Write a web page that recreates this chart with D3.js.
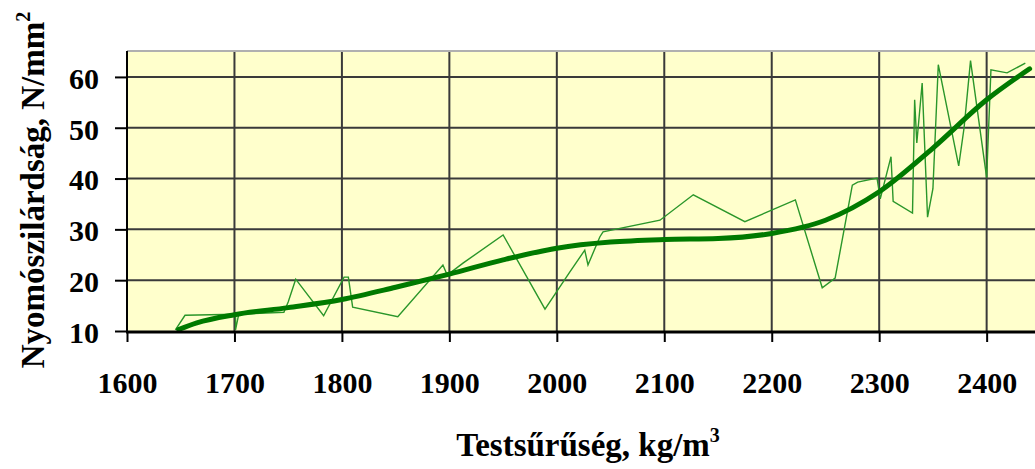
<!DOCTYPE html>
<html>
<head>
<meta charset="utf-8">
<script src="https://cdn.jsdelivr.net/npm/d3@7"></script>
<style>
  body { margin: 0; background: #fff; }
  svg { display: block; font-family: "Liberation Serif", "Times New Roman", serif; font-weight: bold; }
</style>
</head>
<body>
<svg id="chart" width="1035" height="469"></svg>
<script>
// measured points (density kg/m3, strength N/mm2)
const measDensity = [1645, 1654, 1701, 1701, 1704, 1746, 1750, 1757, 1783, 1802, 1806, 1810, 1852, 1894, 1898, 1913,
  1950, 1989, 2012, 2026, 2029, 2040, 2043, 2096, 2127, 2175, 2222, 2247, 2259, 2275, 2280, 2298, 2301, 2311, 2313,
  2331, 2333, 2335, 2340, 2345, 2350, 2355, 2374, 2379, 2385, 2400, 2404, 2419, 2436];
const measStrength = [10.2, 13.1, 13.3, 10.2, 13.3, 13.7, 15.7, 20.2, 13.0, 20.6, 20.6, 14.7, 12.8, 23.0, 21.0, 23.4,
  28.9, 14.3, 21.6, 25.9, 23.0, 28.5, 29.5, 31.8, 36.8, 31.5, 35.8, 18.5, 20.4, 38.7, 39.3, 40.1, 36.0, 44.3, 35.5,
  33.2, 55.5, 47.0, 58.8, 32.4, 38.0, 62.4, 42.5, 50.0, 63.2, 40.2, 61.4, 60.8, 62.7];

// trend line
const trendDensity = [1648, 1665, 1700, 1750, 1800, 1850, 1900, 1950, 2000, 2050, 2100, 2150, 2200, 2250, 2300, 2350, 2400, 2440];
const trendStrength = [10.3, 11.6, 13.2, 14.6, 16.2, 18.6, 21.2, 24.0, 26.3, 27.5, 28.0, 28.2, 29.2, 31.8, 37.4, 46.0, 55.5, 61.6];

const xTicks = [1600, 1700, 1800, 1900, 2000, 2100, 2200, 2300, 2400];
const yTicks = [10, 20, 30, 40, 50, 60];

const svg = d3.select('#chart');
const pLeft = 127, pRight = 1035, pTop = 51, pBottom = 331;

const x = d3.scaleLinear().domain([1600, 2445]).range([pLeft, pRight]);
const y = d3.scaleLinear().domain([10, 65.1]).range([pBottom, pTop]);

// plot background
svg.append('rect')
  .attr('x', pLeft).attr('y', pTop)
  .attr('width', pRight - pLeft).attr('height', pBottom - pTop)
  .attr('fill', '#ffffcc');

// grid
svg.append('g').selectAll('line')
  .data(yTicks.filter(d => d > 10))
  .enter().append('line')
  .attr('x1', pLeft).attr('x2', pRight)
  .attr('y1', d => y(d)).attr('y2', d => y(d))
  .attr('stroke', '#3a3a3a').attr('stroke-width', 2);
svg.append('g').selectAll('line')
  .data(xTicks.filter(d => d > 1600))
  .enter().append('line')
  .attr('x1', d => x(d)).attr('x2', d => x(d))
  .attr('y1', pTop).attr('y2', pBottom)
  .attr('stroke', '#3a3a3a').attr('stroke-width', 2);

svg.append('line')
  .attr('x1', pLeft).attr('x2', pRight).attr('y1', pTop).attr('y2', pTop)
  .attr('stroke', '#b0b0b0').attr('stroke-width', 2);

// lines
const meas = measDensity.map((d, i) => [d, measStrength[i]]);
const trend = trendDensity.map((d, i) => [d, trendStrength[i]]);

svg.append('path')
  .datum(meas)
  .attr('d', d3.line().x(d => x(d[0])).y(d => y(d[1])))
  .attr('fill', 'none').attr('stroke', '#2a962a').attr('stroke-width', 1.4)
  .attr('stroke-linejoin', 'miter');

svg.append('path')
  .datum(trend)
  .attr('d', d3.line().curve(d3.curveMonotoneX).x(d => x(d[0])).y(d => y(d[1])))
  .attr('fill', 'none').attr('stroke', '#007a00').attr('stroke-width', 5)
  .attr('stroke-linecap', 'round');

// axes
const yAxis = svg.append('g')
  .attr('transform', `translate(${pLeft},0)`)
  .call(d3.axisLeft(y).tickValues(yTicks).tickSize(12).tickPadding(16));
const xAxis = svg.append('g')
  .attr('transform', `translate(0,${pBottom + 1})`)
  .call(d3.axisBottom(x).tickValues(xTicks).tickSize(10).tickPadding(30).tickFormat(d3.format('d')));

[yAxis, xAxis].forEach(g => {
  g.select('.domain').remove();
  g.selectAll('line').attr('stroke', '#000').attr('stroke-width', 2);
  g.selectAll('text')
    .attr('fill', '#000')
    .style('font-family', '"Liberation Serif", serif')
    .style('font-weight', 'bold')
    .style('font-size', '30px');
});
yAxis.selectAll('text').attr('dy', '0.38em');

svg.append('line')
  .attr('x1', pLeft).attr('x2', pLeft).attr('y1', pTop).attr('y2', pBottom + 2)
  .attr('stroke', '#000').attr('stroke-width', 2);
svg.append('line')
  .attr('x1', pLeft - 1).attr('x2', pRight).attr('y1', pBottom + 1).attr('y2', pBottom + 1)
  .attr('stroke', '#000').attr('stroke-width', 3);

// titles
const xt = svg.append('text')
  .attr('x', 588).attr('y', 456)
  .attr('text-anchor', 'middle')
  .style('font-size', '33px');
xt.append('tspan').text('Testsűrűség, kg/m');
xt.append('tspan').text('3').attr('dy', -14).style('font-size', '20px');

const yt = svg.append('text')
  .attr('transform', 'translate(44,190) rotate(-90)')
  .attr('text-anchor', 'middle')
  .style('font-size', '33px');
yt.append('tspan').text('Nyomószilárdság, N/mm');
yt.append('tspan').text('2').attr('dy', -14).style('font-size', '20px');
</script>
</body>
</html>
